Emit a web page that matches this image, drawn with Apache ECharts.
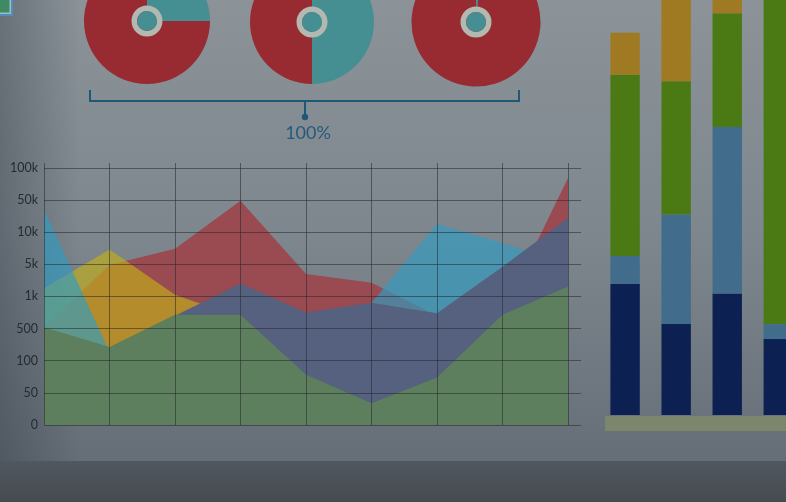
<!DOCTYPE html>
<html>
<head>
<meta charset="utf-8">
<script src="https://cdn.jsdelivr.net/npm/echarts@6/dist/echarts.min.js"></script>
<style>
html,body{margin:0;padding:0;background:#7c858c;}
#chart{width:786px;height:502px;}
</style>
</head>
<body>
<div id="chart"></div>
<script>
// ---- area chart data ----
const xIndex = [0, 1, 2, 3, 4, 5, 6, 7, 8];
const levelTicks = [0, 50, 100, 500, 1000, 5000, 10000, 50000, 100000];
const yTickLabels = ['0', '50', '100', '500', '1k', '5k', '10k', '50k', '100k'];
const cyanValues   = [38000, 210, 340, 500, 650, 900, 20000, 8300, 5000];
const redValues    = [520, 4900, 7400, 49000, 3800, 2700, 700, 750, 84000];
const yellowValues = [2000, 7300, 1200, 670, 60, 25, 60, 300, 750];
const slateValues  = [300, 180, 700, 2600, 750, 900, 740, 4700, 27600];
const greenValues  = [520, 270, 715, 715, 78, 34, 74, 715, 2240];

// ---- pies ----
const pieShares = [
  {teal: 25, red: 75},
  {teal: 50, red: 50},
  {teal: 1.5, red: 98.5}
];
const pieLabel = '100%';

// ---- stacked bars ----
const barCats  = ['A', 'B', 'C', 'D'];
const barNavy  = [31.6, 21.9, 29.3, 18.3];
const barLight = [6.7, 26.4, 40.1, 3.6];
const barGreen = [43.7, 32.1, 27.4, 80];
const barGold  = [10.1, 22, 6, 0];

function toLevel(v) {
  for (let i = 0; i < levelTicks.length - 1; i++) {
    if (v <= levelTicks[i + 1]) {
      return i + (v - levelTicks[i]) / (levelTicks[i + 1] - levelTicks[i]);
    }
  }
  return levelTicks.length - 1;
}

function area(name, values, color) {
  return {
    type: 'line', name: name, xAxisIndex: 0, yAxisIndex: 0,
    data: values.map((v, i) => [xIndex[i], toLevel(v)]),
    symbol: 'none', lineStyle: {width: 0}, silent: true, z: 2,
    areaStyle: {color: color, opacity: 1}
  };
}

const TEAL = '#458f93', RED = '#982b32';
const pieCenters = [[147, 21], [312, 22], [476, 22]];
const pieRadius = [63, 62, 64.5];
const pieSeries = [];
pieShares.forEach((p, k) => {
  pieSeries.push({
    type: 'pie', center: pieCenters[k], radius: [0, pieRadius[k]], startAngle: 90,
    silent: true, label: {show: false}, labelLine: {show: false}, emphasis: {disabled: true},
    data: [{value: p.teal, itemStyle: {color: TEAL}}, {value: p.red, itemStyle: {color: RED}}],
    z: 2
  });
  pieSeries.push({
    type: 'pie', center: pieCenters[k], radius: [10, 15.5], silent: true,
    label: {show: false}, labelLine: {show: false}, emphasis: {disabled: true},
    data: [{value: 1, itemStyle: {color: '#b3b8b0'}}], z: 3
  });
  pieSeries.push({
    type: 'pie', center: pieCenters[k], radius: [0, 10], silent: true,
    label: {show: false}, labelLine: {show: false}, emphasis: {disabled: true},
    data: [{value: 1, itemStyle: {color: TEAL}}], z: 3
  });
});

function bar(name, values, color) {
  return {
    type: 'bar', name: name, stack: 'b', xAxisIndex: 1, yAxisIndex: 1,
    data: values, barWidth: 29.4, silent: true, clip: false,
    itemStyle: {color: color}, z: 2
  };
}

const chart = echarts.init(document.getElementById('chart'), null, {renderer: 'canvas'});
chart.setOption({
  animation: false,
  backgroundColor: '#7c858c',
  graphic: [
    {type: 'rect', z: -10, shape: {x: 0, y: 0, width: 786, height: 462},
     style: {fill: {type: 'linear', x: 0, y: 0, x2: 0, y2: 1, colorStops: [
       {offset: 0, color: '#8b9399'}, {offset: 0.5, color: '#7f878e'}, {offset: 1, color: '#656e77'}]}}},
    {type: 'rect', z: -9, shape: {x: 0, y: 0, width: 80, height: 462},
     style: {fill: {type: 'linear', x: 0, y: 0, x2: 1, y2: 0, colorStops: [
       {offset: 0, color: 'rgba(40,50,60,0.35)'}, {offset: 1, color: 'rgba(40,50,60,0)'}]}}},
    {type: 'rect', z: -9, shape: {x: 0, y: 461, width: 786, height: 41},
     style: {fill: {type: 'linear', x: 0, y: 0, x2: 0, y2: 1, colorStops: [
       {offset: 0, color: '#51575e'}, {offset: 1, color: '#464b52'}]}}},
    {type: 'rect', z: 5, shape: {x: 605, y: 416, width: 181, height: 15}, style: {fill: '#7c866c'}},
    {type: 'rect', z: 5, shape: {x: 0, y: 0, width: 13, height: 16}, style: {fill: '#4d8fc0'}},
    {type: 'rect', z: 5, shape: {x: 0, y: 0, width: 11, height: 14}, style: {fill: '#a9b8b8'}},
    {type: 'rect', z: 5, shape: {x: 0, y: 0, width: 9.5, height: 12.5}, style: {fill: '#3d8a64'}},
    {type: 'polyline', z: 5, shape: {points: [[90, 90], [90, 101], [519, 101], [519, 90]]},
     style: {stroke: '#1f5877', lineWidth: 2, fill: null}},
    {type: 'line', z: 5, shape: {x1: 305, y1: 101, x2: 305, y2: 116}, style: {stroke: '#1f5877', lineWidth: 2}},
    {type: 'circle', z: 5, shape: {cx: 305, cy: 117, r: 3.2}, style: {fill: '#1f5877'}},
    {type: 'text', z: 5, x: 308, y: 133,
     style: {text: pieLabel, fill: '#255a7c', font: '18px Lato, "DejaVu Sans", sans-serif',
       align: 'center', verticalAlign: 'middle'}}
  ],
  grid: [
    {left: 44, top: 163, width: 537.1, height: 262},
    {left: 625.1, top: 0, width: 153.2, height: 415}
  ],
  xAxis: [
    {type: 'value', gridIndex: 0, min: 0, max: 8.2, interval: 1, z: 3,
     axisLine: {show: false}, axisTick: {show: false}, axisLabel: {show: false},
     splitLine: {show: true, showMaxLine: false, lineStyle: {color: 'rgba(35,40,46,0.55)', width: 1}}},
    {type: 'category', gridIndex: 1, data: barCats, boundaryGap: false, show: false}
  ],
  yAxis: [
    {type: 'value', gridIndex: 0, min: 0, max: 8.15, interval: 1, z: 3,
     axisLine: {show: false}, axisTick: {show: false},
     axisLabel: {show: true, showMaxLabel: false, margin: 6, color: '#262b31', fontSize: 12.5,
       fontFamily: 'Lato, "DejaVu Sans", sans-serif',
       formatter: v => (Math.abs(v - Math.round(v)) < 1e-6 ? yTickLabels[Math.round(v)] : '')},
     splitLine: {show: true, showMaxLine: false, lineStyle: {color: 'rgba(35,40,46,0.55)', width: 1}}},
    {type: 'value', gridIndex: 1, min: 0, max: 100, show: false}
  ],
  series: [
    area('red', redValues, '#9a4a51'),
    area('yellow', yellowValues, 'rgba(195,175,25,0.65)'),
    area('cyan', cyanValues, 'rgba(48,157,195,0.65)'),
    area('slate', slateValues, '#55617e'),
    area('green', greenValues, '#5e7f5e'),
    bar('navy', barNavy, '#0c2152'),
    bar('light', barLight, '#416c8c'),
    bar('green', barGreen, '#4b7a15'),
    bar('gold', barGold, '#9f7a22')
  ].concat(pieSeries)
});
</script>
</body>
</html>
